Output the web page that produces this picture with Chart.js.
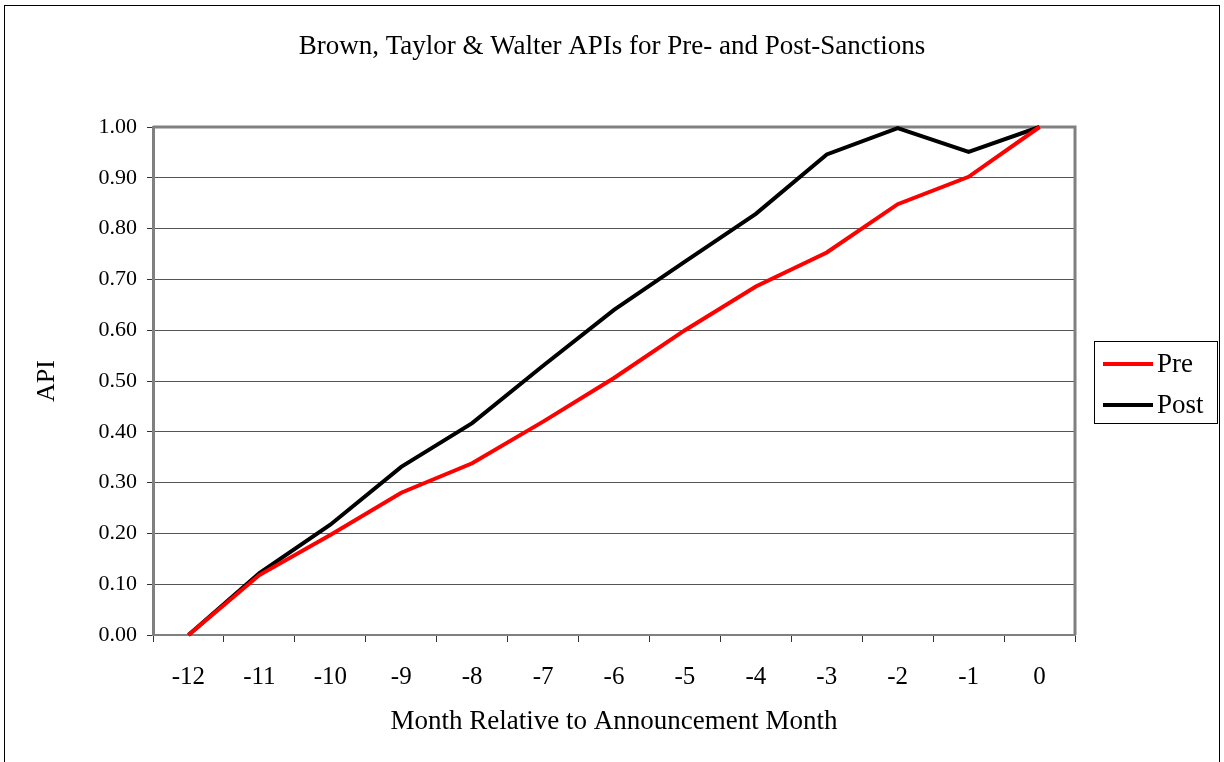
<!DOCTYPE html>
<html>
<head>
<meta charset="utf-8">
<title>Brown, Taylor & Walter APIs</title>
<script src="https://cdn.jsdelivr.net/npm/chart.js@4.4.0/dist/chart.umd.min.js"></script>
<style>
  html, body { margin: 0; padding: 0; background: #fff; }
  #wrap { width: 1224px; height: 762px; }
</style>
</head>
<body>
<div id="wrap"><canvas id="apiChart" width="1224" height="762"></canvas></div>
<script>
// month relative to the announcement month
const months = ["-12", "-11", "-10", "-9", "-8", "-7", "-6", "-5", "-4", "-3", "-2", "-1", "0"];
// abnormal performance index
const preApi = [0, 0.118, 0.197, 0.28, 0.338, 0.42, 0.506, 0.60, 0.686, 0.753, 0.848, 0.902, 1.0];
const postApi = [0, 0.122, 0.217, 0.331, 0.417, 0.53, 0.64, 0.735, 0.829, 0.946, 0.998, 0.951, 1.0];
const yTicks = [0, 0.1, 0.2, 0.3, 0.4, 0.5, 0.6, 0.7, 0.8, 0.9, 1.0];

const serif = "'Liberation Serif', 'Times New Roman', serif";

// outer border + grey frame round the plot area
const framePlugin = {
    id: "frame",
    beforeDraw(chart) {
        const ctx = chart.ctx;
        ctx.save();
        ctx.fillStyle = "#fff";
        ctx.fillRect(0, 0, chart.width, chart.height);
        ctx.strokeStyle = "#000";
        ctx.lineWidth = 1;
        ctx.strokeRect(4.5, 5.5, 1215, 760);
        ctx.restore();
    },
    beforeDatasetsDraw(chart) {
        const a = chart.chartArea;
        const ctx = chart.ctx;
        ctx.save();
        ctx.strokeStyle = "#808080";
        ctx.lineWidth = 3;
        ctx.beginPath();
        ctx.moveTo(a.left, a.top);
        ctx.lineTo(a.right, a.top);
        ctx.lineTo(a.right, a.bottom);
        ctx.stroke();
        ctx.restore();
    }
};

// Excel style legend box on the right
const sideLegend = {
    id: "sideLegend",
    afterDraw(chart) {
        const ctx = chart.ctx;
        ctx.save();
        ctx.strokeStyle = "#000";
        ctx.lineWidth = 1;
        ctx.strokeRect(1094.5, 341.5, 123, 82);
        ctx.font = "27px " + serif;
        ctx.textBaseline = "middle";
        ctx.fillStyle = "#000";
        chart.data.datasets.forEach((ds, i) => {
            const y = 364 + i * 41;
            ctx.strokeStyle = ds.borderColor;
            ctx.lineWidth = 4;
            ctx.beginPath();
            ctx.moveTo(1103, y);
            ctx.lineTo(1153, y);
            ctx.stroke();
            ctx.fillText(ds.label, 1157, y + 1);
        });
        ctx.restore();
    }
};

const ctx = document.getElementById("apiChart").getContext("2d");
new Chart(ctx, {
    type: "line",
    data: {
        labels: months,
        datasets: [{
            label: "Pre",
            data: preApi,
            borderColor: "#ff0000",
            borderWidth: 4,
            pointRadius: 0,
            tension: 0,
            clip: false
        }, {
            label: "Post",
            data: postApi,
            borderColor: "#000000",
            borderWidth: 4,
            pointRadius: 0,
            tension: 0,
            clip: false
        }]
    },
    options: {
        responsive: false,
        animation: false,
        devicePixelRatio: 1,
        layout: { padding: 0 },
        plugins: {
            legend: { display: false },
            tooltip: { enabled: false },
            title: {
                display: true,
                text: "Brown, Taylor & Walter APIs for Pre- and Post-Sanctions",
                color: "#000",
                font: { family: serif, size: 27, weight: "normal" },
                padding: { top: 31, bottom: 63.6 }
            }
        },
        scales: {
            x: {
                offset: true,
                grid: {
                    offset: true,
                    drawOnChartArea: false,
                    drawTicks: true,
                    tickLength: 7,
                    tickColor: "#333"
                },
                border: { color: "#808080", width: 2 },
                ticks: {
                    color: "#000",
                    font: { family: serif, size: 25 },
                    padding: 20,
                    maxRotation: 0
                },
                title: {
                    display: true,
                    text: "Month Relative to Announcement Month",
                    color: "#000",
                    font: { family: serif, size: 27 },
                    padding: { top: 24, bottom: 24 }
                },
                afterFit(scale) { scale.height = 127; }
            },
            y: {
                min: 0,
                max: 1,
                afterBuildTicks(scale) { scale.ticks = yTicks.map(v => ({ value: v })); },
                grid: {
                    color: "#555",
                    lineWidth: 1,
                    drawTicks: true,
                    tickLength: 6,
                    tickColor: "#333"
                },
                border: { color: "#808080", width: 3 },
                ticks: {
                    color: "#000",
                    font: { family: serif, size: 22 },
                    padding: 10,
                    callback: v => Number(v).toFixed(2)
                },
                title: {
                    display: true,
                    text: "API",
                    color: "#000",
                    font: { family: serif, size: 26 },
                    padding: { top: 31.4, bottom: 31.4 }
                },
                afterFit(scale) { scale.width = 153; }
            },
            // empty right-hand strip that holds the legend
            legendSpace: {
                type: "linear",
                position: "right",
                grid: { display: false },
                border: { display: false },
                ticks: { display: false },
                afterFit(scale) { scale.width = 149; }
            }
        }
    },
    plugins: [framePlugin, sideLegend]
});
</script>
</body>
</html>
